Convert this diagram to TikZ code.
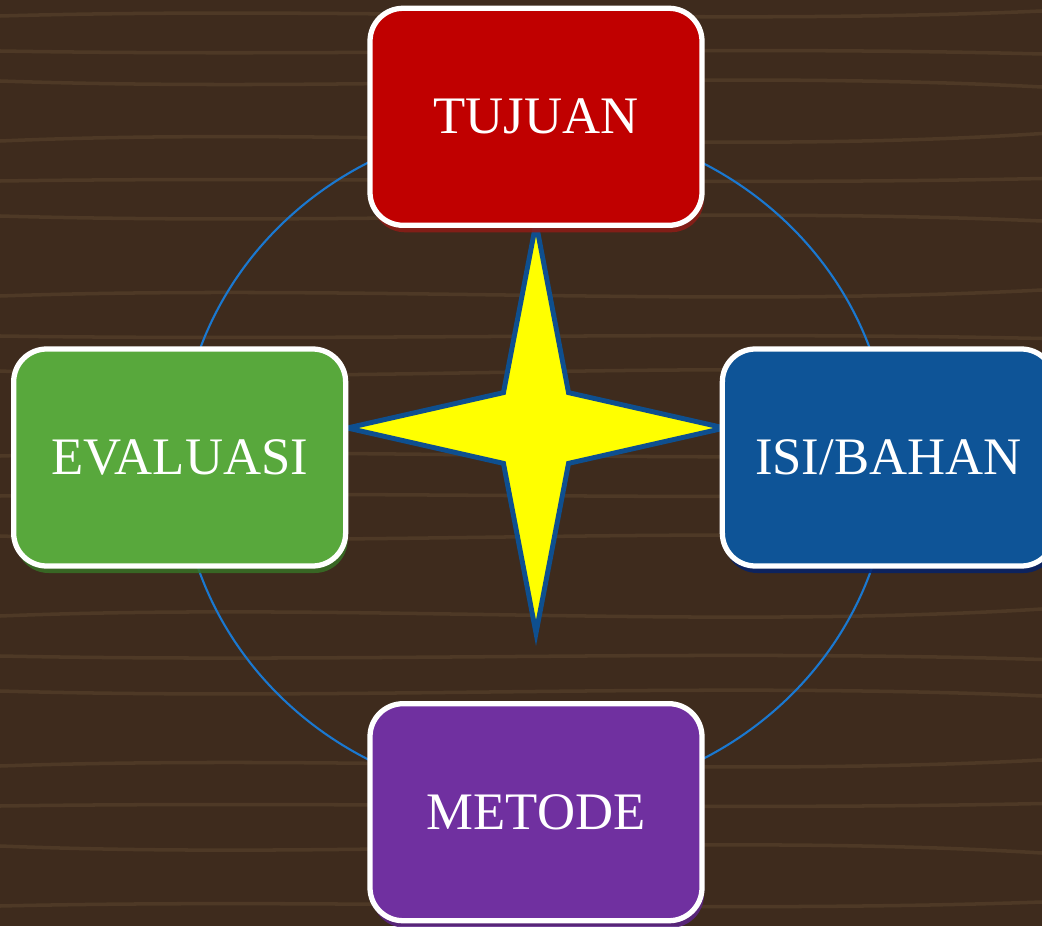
\documentclass[tikz,border=0pt]{standalone}
\usepackage{fontspec}
\setmainfont{Liberation Serif}
\usepackage{xcolor}
\usepackage{tikz}
\usetikzlibrary{shapes.geometric, shadows, positioning}

\definecolor{wood}{HTML}{3E2B1D}
\definecolor{woodlight}{HTML}{7A5E3E}
\definecolor{tujuanred}{HTML}{C00000}
\definecolor{tujuanshade}{HTML}{8E1C16}
\definecolor{evalgreen}{HTML}{58A83C}
\definecolor{evalshade}{HTML}{377126}
\definecolor{isiblue}{HTML}{0E5497}
\definecolor{isishade}{HTML}{05226A}
\definecolor{metodepurple}{HTML}{7030A0}
\definecolor{metodeshade}{HTML}{5C2488}
\definecolor{ringblue}{HTML}{1A78D0}
\definecolor{staredge}{HTML}{0E4F8F}
\definecolor{staryellow}{HTML}{FFFF00}

\begin{document}
\begin{tikzpicture}[
    grain/.style={draw=woodlight, line width=1pt, opacity=0.28},
    ring/.style={draw=ringblue, line width=0.6pt},
    star4/.style={shape=star, star points=4, star point ratio=4.1, minimum size=4.1cm, inner sep=0pt, xscale=0.92, fill=staryellow, draw=staredge, line width=1.4pt},
    box/.style 2 args={draw=white, line width=1.5pt, rounded corners=0.33cm, minimum width=3.32cm, minimum height=2.17cm, fill=#1, text=white, font=\fontsize{15}{18}\selectfont, drop shadow={shadow xshift=0.02cm, shadow yshift=-0.07cm, fill=#2, opacity=0.85}}
]
    \useasboundingbox (0,0) rectangle (10.42,9.26);
    \fill[wood] (0,0) rectangle (10.42,9.26);
    % wood grain
    \foreach \y/\a in {9.1/0.10, 8.75/-0.06, 8.45/-0.12, 7.85/0.15, 7.45/0.05, 7.1/-0.1, 6.3/0.12, 5.9/-0.05, 5.55/-0.15, 4.7/0.1, 4.3/0.06, 3.9/-0.12, 3.1/0.14, 2.7/-0.07, 2.35/-0.1, 1.6/0.12, 1.2/0.05, 0.8/-0.14, 0.2/0.08}
        \draw[grain] (0,\y) .. controls (3.5,\y+\a) and (7,\y-\a) .. (10.42,\y+0.5*\a);

    \draw[ring] (5.35,4.65) ellipse (3.55cm and 3.38cm);

    \node[star4] (star) at (5.36,4.98) {};

    \node[box={tujuanred}{tujuanshade}, above=-0.17cm of star] (tujuan) {TUJUAN};
    \node[box={evalgreen}{evalshade}, left=-0.12cm of star, yshift=-0.295cm] (evaluasi) {EVALUASI};
    \node[box={isiblue}{isishade}, right=-0.16cm of star, yshift=-0.295cm] (isi) {ISI/BAHAN};
    \node[box={metodepurple}{metodeshade}, below=0.56cm of star] (metode) {METODE};
\end{tikzpicture}
\end{document}
